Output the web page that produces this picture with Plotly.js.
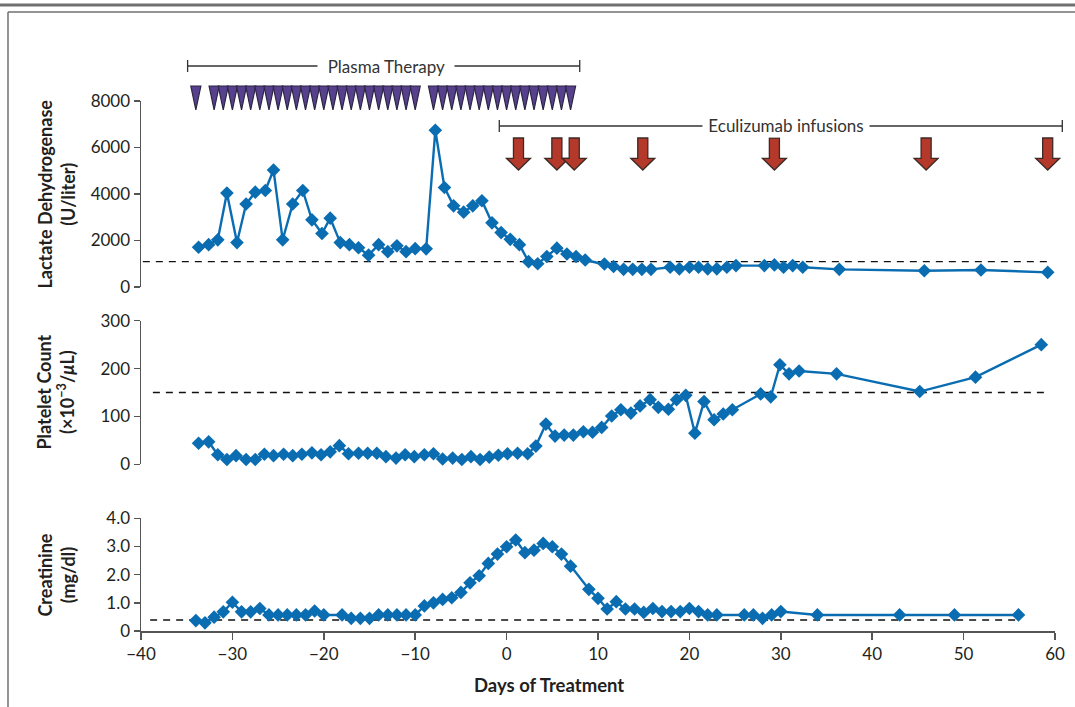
<!DOCTYPE html>
<html><head><meta charset="utf-8">
<script src="https://cdn.plot.ly/plotly-3.0.1.min.js"></script>
<style>html,body{margin:0;padding:0;background:#fff;} #chart{width:1075px;height:707px;}</style>
</head><body><div id="chart"></div>
<script>
// ---------------- DATA ----------------
const ldhDays = [-33.7,-32.6,-31.6,-30.6,-29.5,-28.5,-27.5,-26.4,-25.5,-24.5,-23.4,-22.3,-21.3,-20.2,-19.3,-18.2,-17.2,-16.2,-15.1,-14.0,-13.0,-12.0,-11.0,-10.0,-8.8,-7.8,-6.8,-5.8,-4.7,-3.7,-2.7,-1.6,-0.6,0.4,1.4,2.4,3.4,4.4,5.5,6.6,7.6,8.6,10.7,11.7,12.8,13.8,14.8,15.8,17.9,18.9,20.0,21.0,22.0,23.0,24.1,25.1,28.2,29.3,30.3,31.3,32.4,36.4,45.7,51.9,59.2];
const ldhVals = [1710,1820,2030,4040,1910,3570,4080,4150,5030,2030,3570,4150,2890,2300,2960,1910,1820,1690,1370,1820,1520,1770,1520,1650,1640,6740,4280,3490,3220,3490,3710,2760,2340,2050,1820,1090,1000,1310,1670,1420,1310,1160,990,880,760,760,760,760,850,780,850,850,780,780,850,920,920,950,850,920,850,760,700,730,630];

const pltDays = [-33.7,-32.6,-31.6,-30.6,-29.6,-28.5,-27.5,-26.5,-25.5,-24.4,-23.4,-22.4,-21.3,-20.3,-19.3,-18.3,-17.3,-16.2,-15.2,-14.2,-13.2,-12.1,-11.1,-10.1,-9.0,-8.0,-7.0,-5.9,-4.9,-3.9,-2.9,-1.9,-0.9,0.1,1.2,2.3,3.2,4.3,5.3,6.3,7.3,8.4,9.4,10.4,11.5,12.5,13.6,14.6,15.7,16.6,17.7,18.6,19.6,20.6,21.6,22.7,23.7,24.7,27.8,28.9,29.9,30.9,32.0,36.1,45.2,51.3,58.5];
const pltVals = [44,47,20,10,18,10,10,21,18,21,18,21,24,20,26,39,22,23,23,23,16,13,20,16,20,22,11,13,10,16,10,15,19,22,23,22,38,84,59,61,61,68,67,77,101,114,107,122,135,119,115,135,144,65,131,93,105,114,147,141,208,189,195,189,152,182,250];

const crDays = [-34,-33,-32,-31,-30,-29,-28,-27,-26,-25,-24,-23,-22,-21,-20,-18,-17,-16,-15,-14,-13,-12,-11,-10,-9,-8,-7,-6,-5,-4,-3,-2,-1,0,1,2,3,4,5,6,7,9,10,11,12,13,14,15,16,17,18,19,20,21,22,23,26,27,28,29,30,34,43,49,56];
const crVals = [0.37,0.29,0.49,0.68,1.02,0.68,0.68,0.80,0.57,0.57,0.57,0.57,0.57,0.71,0.57,0.57,0.45,0.45,0.45,0.57,0.57,0.57,0.57,0.57,0.89,1.00,1.12,1.18,1.37,1.71,1.96,2.40,2.73,2.99,3.23,2.78,2.87,3.11,2.99,2.73,2.30,1.48,1.16,0.78,1.04,0.78,0.78,0.66,0.80,0.69,0.69,0.69,0.80,0.69,0.57,0.57,0.57,0.57,0.45,0.57,0.69,0.57,0.57,0.57,0.57];

// Treatment days
const plasmaDays = [-34,-32,-31,-30,-29,-28,-27,-26,-25,-24,-23,-22,-21,-20,-19,-18,-17,-16,-15,-14,-13,-12,-11,-10,-8,-7,-6,-5,-4,-3,-2,-1,0,1,2,3,4,5,6,7];
const eculizumabDays = [1.3,5.5,7.4,14.9,29.3,45.9,59.2];
const plasmaSpan = [-34.9, 8.0];
const eculizumabSpan = [-0.8, 60.8];

// Normal reference limits (dashed lines) and their spans
const ldhNormal = 1090, ldhNormalSpan = [-39.8, 59.2];
const pltNormal = 150,  pltNormalSpan = [-38.7, 59.1];
const crNormal = 0.39,  crNormalSpan = [-39.0, 56.0];

// Ticks
const xTicks = [-40,-30,-20,-10,0,10,20,30,40,50,60];
const ldhTicks = [0,2000,4000,6000,8000];
const pltTicks = [0,100,200,300];
const crTicks = [0,1,2,3,4];
const crTickText = ['0','1.0','2.0','3.0','4.0'];

// ---------------- STYLE ----------------
const BLUE = '#0b6db1';
const FONT = 'Lato, "Open Sans", sans-serif';
const TXT = '#231f20';
const AX = '#555555';

function series(x, y, ya) {
  return {x: x, y: y, xaxis: 'x', yaxis: ya, type: 'scatter', mode: 'lines+markers',
    line: {color: BLUE, width: 2.4}, marker: {symbol: 'diamond', size: 10.5, color: BLUE},
    cliponaxis: false, hoverinfo: 'x+y', showlegend: false};
}
function normalLine(span, v, ya) {
  return {x: span, y: [v, v], xaxis: 'x', yaxis: ya, type: 'scatter', mode: 'lines',
    line: {color: '#111', width: 1.4, dash: '7px,6px'}, hoverinfo: 'skip', showlegend: false};
}

const traces = [
  normalLine(ldhNormalSpan, ldhNormal, 'y'),
  normalLine(pltNormalSpan, pltNormal, 'y2'),
  normalLine(crNormalSpan, crNormal, 'y3'),
  series(ldhDays, ldhVals, 'y'),
  series(pltDays, pltVals, 'y2'),
  series(crDays, crVals, 'y3'),
  {x: [0], y: [0], xaxis: 'x2', yaxis: 'y4', type: 'scatter', mode: 'markers',
   marker: {opacity: 0}, hoverinfo: 'skip', showlegend: false}
];

// Overlay geometry in overlay units (same scale as LDH axis)
const triTop = 8645, triTip = 7613, triHalf = 0.55;
const arShaftTop = 6409, arHeadTop = 5535, arTip = 5032, arShaftHalf = 0.55, arHeadHalf = 1.31;
const plasmaY = 9505, ecuY = 6925, brTick = 258;

const shapes = [];
plasmaDays.forEach(d => {
  shapes.push({type: 'path', xref: 'x2', yref: 'y4', layer: 'above',
    path: `M${d - triHalf},${triTop} L${d + triHalf},${triTop} L${d},${triTip} Z`,
    fillcolor: '#57418f', line: {color: '#2b2540', width: 1.2}});
});
eculizumabDays.forEach(d => {
  shapes.push({type: 'path', xref: 'x2', yref: 'y4', layer: 'above',
    path: `M${d - arShaftHalf},${arShaftTop} L${d + arShaftHalf},${arShaftTop} L${d + arShaftHalf},${arHeadTop} L${d + arHeadHalf},${arHeadTop} L${d},${arTip} L${d - arHeadHalf},${arHeadTop} L${d - arShaftHalf},${arHeadTop} Z`,
    fillcolor: '#b5392a', line: {color: '#3b2a26', width: 1.3}});
});
[[plasmaSpan, plasmaY], [eculizumabSpan, ecuY]].forEach(([s, y]) => {
  shapes.push({type: 'line', xref: 'x2', yref: 'y4', x0: s[0], x1: s[1], y0: y, y1: y, line: {color: '#333', width: 1.3}});
  shapes.push({type: 'line', xref: 'x2', yref: 'y4', x0: s[0], x1: s[0], y0: y - brTick, y1: y + brTick, line: {color: '#333', width: 1.3}});
  shapes.push({type: 'line', xref: 'x2', yref: 'y4', x0: s[1], x1: s[1], y0: y - brTick, y1: y + brTick, line: {color: '#333', width: 1.3}});
});
// page frame
shapes.push({type: 'line', xref: 'paper', yref: 'paper', x0: -0.151, x1: 1.0, y0: 0.99208, y1: 0.99208, line: {color: '#707070', width: 3}});
shapes.push({type: 'line', xref: 'paper', yref: 'paper', x0: -0.1424, x1: 1.0, y0: 0.98098, y1: 0.98098, line: {color: '#707070', width: 1.5}});
shapes.push({type: 'line', xref: 'paper', yref: 'paper', x0: -0.1424, x1: -0.1424, y0: 0.98098, y1: -0.125, line: {color: '#707070', width: 1.5}});

const annotations = [
  {xref: 'x2', yref: 'y4', x: -13.2, y: plasmaY, text: '\u00a0\u00a0Plasma Therapy\u00a0\u00a0', showarrow: false,
   bgcolor: '#fff', borderpad: 1, font: {family: FONT, size: 17, color: '#333'}},
  {xref: 'x2', yref: 'y4', x: 30.6, y: ecuY, text: '\u00a0Eculizumab infusions\u00a0', showarrow: false,
   bgcolor: '#fff', borderpad: 1, font: {family: FONT, size: 17, color: '#333'}},
  {xref: 'paper', yref: 'paper', x: -0.0915, y: 0.6925, text: '<b>Lactate Dehydrogenase</b><br><b>(U/liter)</b>',
   textangle: -90, showarrow: false, xanchor: 'center', yanchor: 'middle', font: {family: FONT, size: 18, color: TXT}},
  {xref: 'paper', yref: 'paper', x: -0.0915, y: 0.3788, text: '<b>Platelet Count</b><br><b>(×10<sup>−3</sup>/<i>μ</i>L)</b>',
   textangle: -90, showarrow: false, xanchor: 'center', yanchor: 'middle', font: {family: FONT, size: 18, color: TXT}},
  {xref: 'paper', yref: 'paper', x: -0.0915, y: 0.0887, text: '<b>Creatinine</b><br><b>(mg/dl)</b>',
   textangle: -90, showarrow: false, xanchor: 'center', yanchor: 'middle', font: {family: FONT, size: 18, color: TXT}},
  {xref: 'paper', yref: 'paper', x: 0.4368, y: -0.0856, text: '<b>Days of Treatment</b>', showarrow: false,
   xanchor: 'center', yanchor: 'middle', font: {family: FONT, size: 18.5, color: TXT}}
];

function yax(domain, range, ticks, text) {
  const a = {domain: domain, range: range, anchor: 'x', showline: true, linecolor: AX, linewidth: 1.5,
    ticks: 'outside', ticklen: 6, tickwidth: 1.5, tickcolor: AX, showgrid: false, zeroline: false,
    tickmode: 'array', tickvals: ticks, tickfont: {family: FONT, size: 17, color: TXT}, fixedrange: true};
  if (text) a.ticktext = text;
  return a;
}

const layout = {
  width: 1075, height: 707,
  margin: {l: 141, r: 0, t: 0, b: 76},
  paper_bgcolor: '#fff', plot_bgcolor: 'rgba(0,0,0,0)',
  showlegend: false,
  font: {family: FONT, color: TXT},
  xaxis: {domain: [0, 0.978587], range: [-40, 60], anchor: 'y3', showline: true, linecolor: AX, linewidth: 1.5,
    ticks: 'outside', ticklen: 7, tickwidth: 1.5, tickcolor: AX, showgrid: false, zeroline: false,
    tickmode: 'array', tickvals: xTicks, tickfont: {family: FONT, size: 17, color: TXT}, fixedrange: true},
  xaxis2: {domain: [0, 1], range: [-40, 62.188], anchor: 'y4', visible: false, fixedrange: true},
  yaxis: yax([0.54517, 0.83994], [0, 8000], ldhTicks),
  yaxis2: yax([0.26418, 0.49176], [0, 300], pltTicks),
  yaxis3: yax([0, 0.17861], [0, 4], crTicks, crTickText),
  yaxis4: {domain: [0.54517, 1], range: [0, 12344], anchor: 'x2', visible: false, fixedrange: true},
  shapes: shapes,
  annotations: annotations
};

Plotly.newPlot('chart', traces, layout, {displayModeBar: false, staticPlot: true});
</script>
</body></html>
